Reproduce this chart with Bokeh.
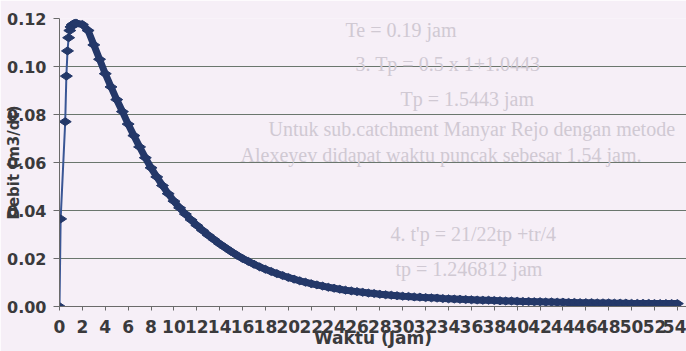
import math

from bokeh.embed import file_html
from bokeh.models import FixedTicker, Label, NumeralTickFormatter, Range1d
from bokeh.plotting import figure
from bokeh.resources import INLINE

# Hydrograph: discharge (m3/dt) against time (jam)
waktu = [
    0.0, 0.1, 0.5, 0.6, 0.7, 0.8, 0.9, 1.0, 1.1, 1.2, 1.3, 1.4, 1.5,
    2.0, 2.5, 3.0, 3.5, 4.0, 4.5, 5.0, 5.5, 6.0, 6.5,
    7.0, 7.5, 8.0, 8.5, 9.0, 9.5, 10.0, 10.5, 11.0, 11.5,
    12.0, 12.5, 13.0, 13.5, 14.0, 14.5, 15.0, 15.5, 16.0, 16.5,
    17.0, 17.5, 18.0, 18.5, 19.0, 19.5, 20.0, 20.5, 21.0, 21.5,
    22.0, 22.5, 23.0, 23.5, 24.0, 24.5, 25.0, 25.5, 26.0, 26.5,
    27.0, 27.5, 28.0, 28.5, 29.0, 29.5, 30.0, 30.5, 31.0, 31.5,
    32.0, 32.5, 33.0, 33.5, 34.0, 34.5, 35.0, 35.5, 36.0, 36.5,
    37.0, 37.5, 38.0, 38.5, 39.0, 39.5, 40.0, 40.5, 41.0, 41.5,
    42.0, 42.5, 43.0, 43.5, 44.0, 44.5, 45.0, 45.5, 46.0, 46.5,
    47.0, 47.5, 48.0, 48.5, 49.0, 49.5, 50.0, 50.5, 51.0, 51.5,
    52.0, 52.5, 53.0, 53.5, 54.0,
]
debit = [
    0.0, 0.0365, 0.0770, 0.0960, 0.1065, 0.1120, 0.1150, 0.1165, 0.1173, 0.1177, 0.1179, 0.1180, 0.1180,
    0.1175, 0.1150, 0.1090, 0.1030, 0.0970, 0.0915, 0.0862, 0.0812, 0.0760, 0.0712,
    0.0665, 0.0620, 0.0578, 0.0540, 0.0504, 0.0470, 0.0439, 0.0411, 0.0385, 0.0361,
    0.0338, 0.0317, 0.0297, 0.0279, 0.0261, 0.0245, 0.0229, 0.0214, 0.0200, 0.0188,
    0.0176, 0.0165, 0.0155, 0.0146, 0.0137, 0.0129, 0.0121, 0.0114, 0.0107, 0.0101,
    0.0095, 0.0090, 0.0085, 0.0080, 0.0076, 0.0072, 0.0068, 0.0065, 0.0062, 0.0059,
    0.0056, 0.0054, 0.0051, 0.0049, 0.0047, 0.0045, 0.0043, 0.0042, 0.0040, 0.0039,
    0.0037, 0.0036, 0.0035, 0.0033, 0.0032, 0.0031, 0.0030, 0.0029, 0.0028, 0.0027,
    0.0026, 0.0026, 0.0025, 0.0024, 0.0023, 0.0023, 0.0022, 0.0021, 0.0021, 0.0020,
    0.0020, 0.0019, 0.0019, 0.0018, 0.0018, 0.0017, 0.0017, 0.0016, 0.0016, 0.0016,
    0.0015, 0.0015, 0.0015, 0.0014, 0.0014, 0.0014, 0.0013, 0.0013, 0.0013, 0.0013,
    0.0012, 0.0012, 0.0012, 0.0012, 0.0012,
]

x_ticks = [0, 2, 4, 6, 8, 10, 12, 14, 16, 18, 20, 22, 24, 26, 28, 30, 32, 34,
           36, 38, 40, 42, 44, 46, 48, 50, 52, 54]
y_ticks = [0.0, 0.02, 0.04, 0.06, 0.08, 0.10, 0.12]

x_title = "Waktu (Jam)"
y_title = "Debit (m3/dt)"

# faint lines of text showing through the paper
page_lines = [
    ("Te = 0.19 jam", 345, 29),
    ("3. Tp = 0.5 x 1+1.0443", 355, 63),
    ("Tp = 1.5443 jam", 400, 98),
    ("Untuk sub.catchment Manyar Rejo dengan metode", 268, 128),
    ("Alexeyev didapat waktu puncak sebesar 1.54 jam.", 240, 154),
    ("4. t'p = 21/22tp +tr/4", 390, 233),
    ("tp = 1.246812 jam", 395, 268),
]

PAPER = "#f6eff7"
INK = "#3a3a3c"
GRID = "#6a766d"
NAVY = "#243869"
FONT = "DejaVu Sans"

FRAME_LEFT = 59
FRAME_BOTTOM = 306

p = figure(
    width=686, height=351,
    output_backend="svg", toolbar_location=None,
    x_range=Range1d(0, 54.8), y_range=Range1d(0, 0.12),
    min_border_left=FRAME_LEFT, min_border_right=0,
    min_border_top=18, min_border_bottom=45,
)
p.background_fill_color = PAPER
p.border_fill_color = PAPER
p.outline_line_color = None

for text, cx, cy in page_lines:
    p.add_layout(Label(
        x=cx - FRAME_LEFT, y=FRAME_BOTTOM - cy,
        x_units="screen", y_units="screen",
        text=text, text_font="Liberation Serif", text_font_size="20px",
        text_color="#d0c9d3", text_align="left", text_baseline="middle",
        level="underlay",
    ))

# axes
p.xaxis.ticker = FixedTicker(ticks=x_ticks)
p.yaxis.ticker = FixedTicker(ticks=y_ticks)
p.yaxis.formatter = NumeralTickFormatter(format="0.00")

for ax in (p.xaxis, p.yaxis):
    ax.axis_line_color = "#6a6a6a"
    ax.axis_line_width = 1
    ax.major_tick_line_color = "#6a6a6a"
    ax.minor_tick_line_color = None
    ax.major_tick_in = 0
    ax.major_label_text_font = FONT
    ax.major_label_text_font_style = "bold"
    ax.major_label_text_color = INK
    ax.axis_label_text_font = FONT
    ax.axis_label_text_font_style = "bold"
    ax.axis_label_text_color = INK

p.xaxis.major_tick_out = 4
p.xaxis.major_label_standoff = 9
p.xaxis.major_label_text_font_size = "17px"
p.xaxis.axis_label = x_title
p.xaxis.axis_label_text_font_size = "17px"
p.xaxis.axis_label_standoff = -8

p.yaxis.major_tick_out = 6
p.yaxis.major_label_standoff = 7
p.yaxis.major_label_text_font_size = "16px"
p.yaxis.axis_label = y_title
p.yaxis.axis_label_text_font_size = "15px"
p.yaxis.axis_label_standoff = -19

p.xgrid.grid_line_color = None
p.ygrid.grid_line_color = GRID
p.ygrid.grid_line_width = 1

# series: thin connector on the rising limb, dense band on the recession
p.line(waktu, debit, line_color="#3a5695", line_width=2)
p.line(waktu[12:], debit[12:], line_color=NAVY, line_width=7)
p.scatter(waktu, debit, marker="diamond", size=12, angle=math.pi / 2,
          fill_color=NAVY, line_color=NAVY, line_width=1)

open("out.html", "w").write(file_html(p, INLINE))
